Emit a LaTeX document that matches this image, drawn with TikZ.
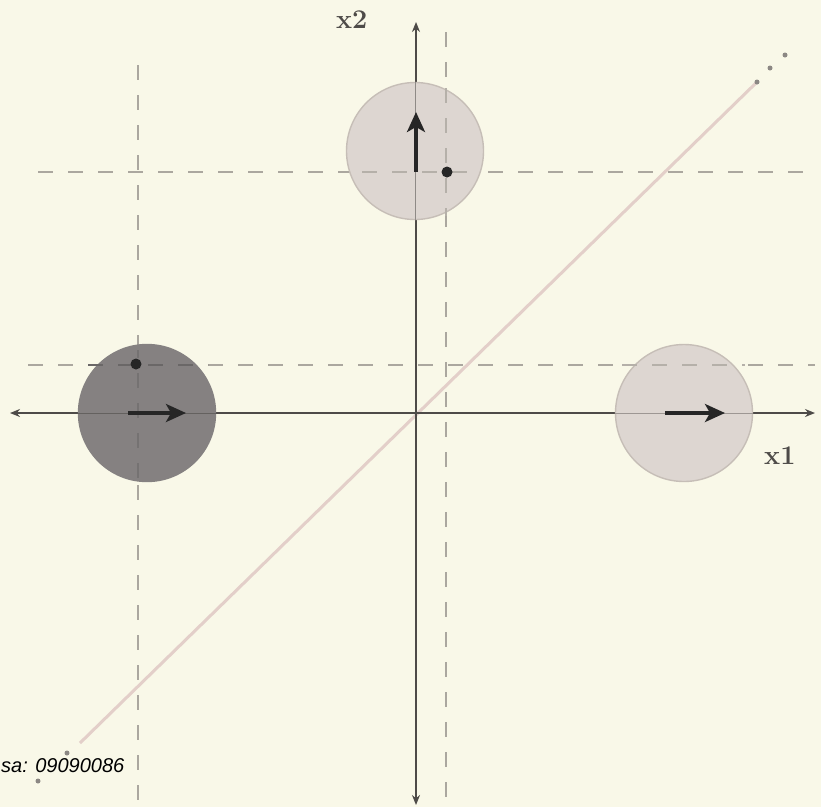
\documentclass[tikz,border=0pt]{standalone}
\usepackage{fontspec}
\newfontfamily\labfont{Liberation Sans}
\usetikzlibrary{arrows.meta}
\definecolor{bg}{HTML}{F9F8E8}
\definecolor{dashc}{HTML}{ABA79F}
\definecolor{axisc}{HTML}{4E4B48}
\definecolor{lightc}{HTML}{DDD6D1}
\definecolor{lightb}{HTML}{C6BEB7}
\definecolor{darkc}{HTML}{858181}
\definecolor{diagc}{HTML}{E3CFC9}
\definecolor{dotc}{HTML}{8C8884}
\tikzset{
  guide/.style={draw=dashc, line width=1.6pt, dash pattern=on 15pt off 15pt},
  axisline/.style={draw=axisc, line width=2.4pt, {Stealth[length=10pt,width=8pt]}-{Stealth[length=10pt,width=8pt]}},
  blob/.style={circle, minimum size=137pt, inner sep=0pt, line width=1.4pt},
  lightblob/.style={blob, fill=lightc, draw=lightb},
  darkblob/.style={blob, fill=darkc, draw=darkc},
  vecarrow/.style={draw=black!85, line width=3.4pt, -{Stealth[length=20pt,width=18pt,inset=5pt]}},
  pt/.style={circle, fill=black!85, inner sep=0pt, minimum size=11pt},
  smalldot/.style={circle, fill=dotc, inner sep=0pt, minimum size=5pt},
  axlabel/.style={text=axisc, font=\fontsize{27}{30}\selectfont\bfseries, inner sep=0pt}
}
\begin{document}
\begin{tikzpicture}[x=1pt,y=-1pt]
\fill[bg] (0,0) rectangle (821,807);
\useasboundingbox (0,0) rectangle (821,807);
% guides
\draw[guide] (138,65) -- (138,800);
\draw[guide] (446,32) -- (446,800);
\draw[guide] (38,172) -- (815,172);
\draw[guide] (28,365) -- (815,365);
% diagonal
\coordinate (d1) at (80,743);
\coordinate (d2) at (757,82);
\draw[diagc, line width=3pt] (d1) -- (d2);
\node[smalldot] (e1) at (757,82) {};
\node[smalldot] (e2) at (770,68) {};
\node[smalldot] (e3) at (785,55) {};
\node[smalldot] (e4) at (67,753) {};
\node[smalldot] (e5) at (38,781) {};
% axes
\coordinate (xl) at (10,413);
\coordinate (xr) at (815,413);
\coordinate (yt) at (416,22);
\coordinate (yb) at (416,805);
\draw[axisline] (xl) -- (xr);
\draw[axisline] (yt) -- (yb);
% circles
\node[lightblob] (top) at (415,151) {};
\node[darkblob] (left) at (147,413) {};
\node[lightblob] (right) at (684,413) {};
% faint lines seen through circles
\draw[draw=darkc!80!black, line width=1.2pt, dash pattern=on 15pt off 15pt] (88,365) -- (208,365);
\draw[draw=darkc!88!black, line width=1.2pt, dash pattern=on 15pt off 15pt, dash phase=7pt] (138,350) -- (138,478);
\draw[draw=dashc!80!lightc, line width=1.3pt, dash pattern=on 15pt off 15pt] (446,88) -- (446,216);
\draw[draw=dashc!80!lightc, line width=1.3pt, dash pattern=on 15pt off 15pt] (362,172) -- (480,172);
\draw[draw=dashc!80!lightc, line width=1.3pt, dash pattern=on 15pt off 15pt] (622,365) -- (745,365);
\draw[draw=axisc!45!lightc, line width=1pt] (right.west) -- (right.east);
\draw[draw=axisc!55!lightc, line width=1pt] (top.north) -- (top.south);
\draw[draw=axisc!60!darkc, line width=1pt] (left.west) -- (left.east);
% vectors
\coordinate (va) at (416,172);
\coordinate (vb) at (416,112);
\draw[vecarrow] (va) -- (vb);
\coordinate (vc) at (128,413);
\coordinate (vd) at (186,413);
\draw[vecarrow] (vc) -- (vd);
\coordinate (ve) at (665,413);
\coordinate (vf) at (725,413);
\draw[vecarrow] (ve) -- (vf);
% points
\node[pt] (p1) at (447,172) {};
\node[pt] (p2) at (136,364) {};
% labels
\node[axlabel, anchor=base west] (lx2) at (336,28) {x2};
\node[axlabel, anchor=base west] (lx1) at (764,464) {x1};
\node[font=\labfont\itshape\fontsize{20}{24}\selectfont, anchor=base west, inner sep=0pt] (tag) at (1,772) {sa: 09090086};
\end{tikzpicture}
\end{document}
